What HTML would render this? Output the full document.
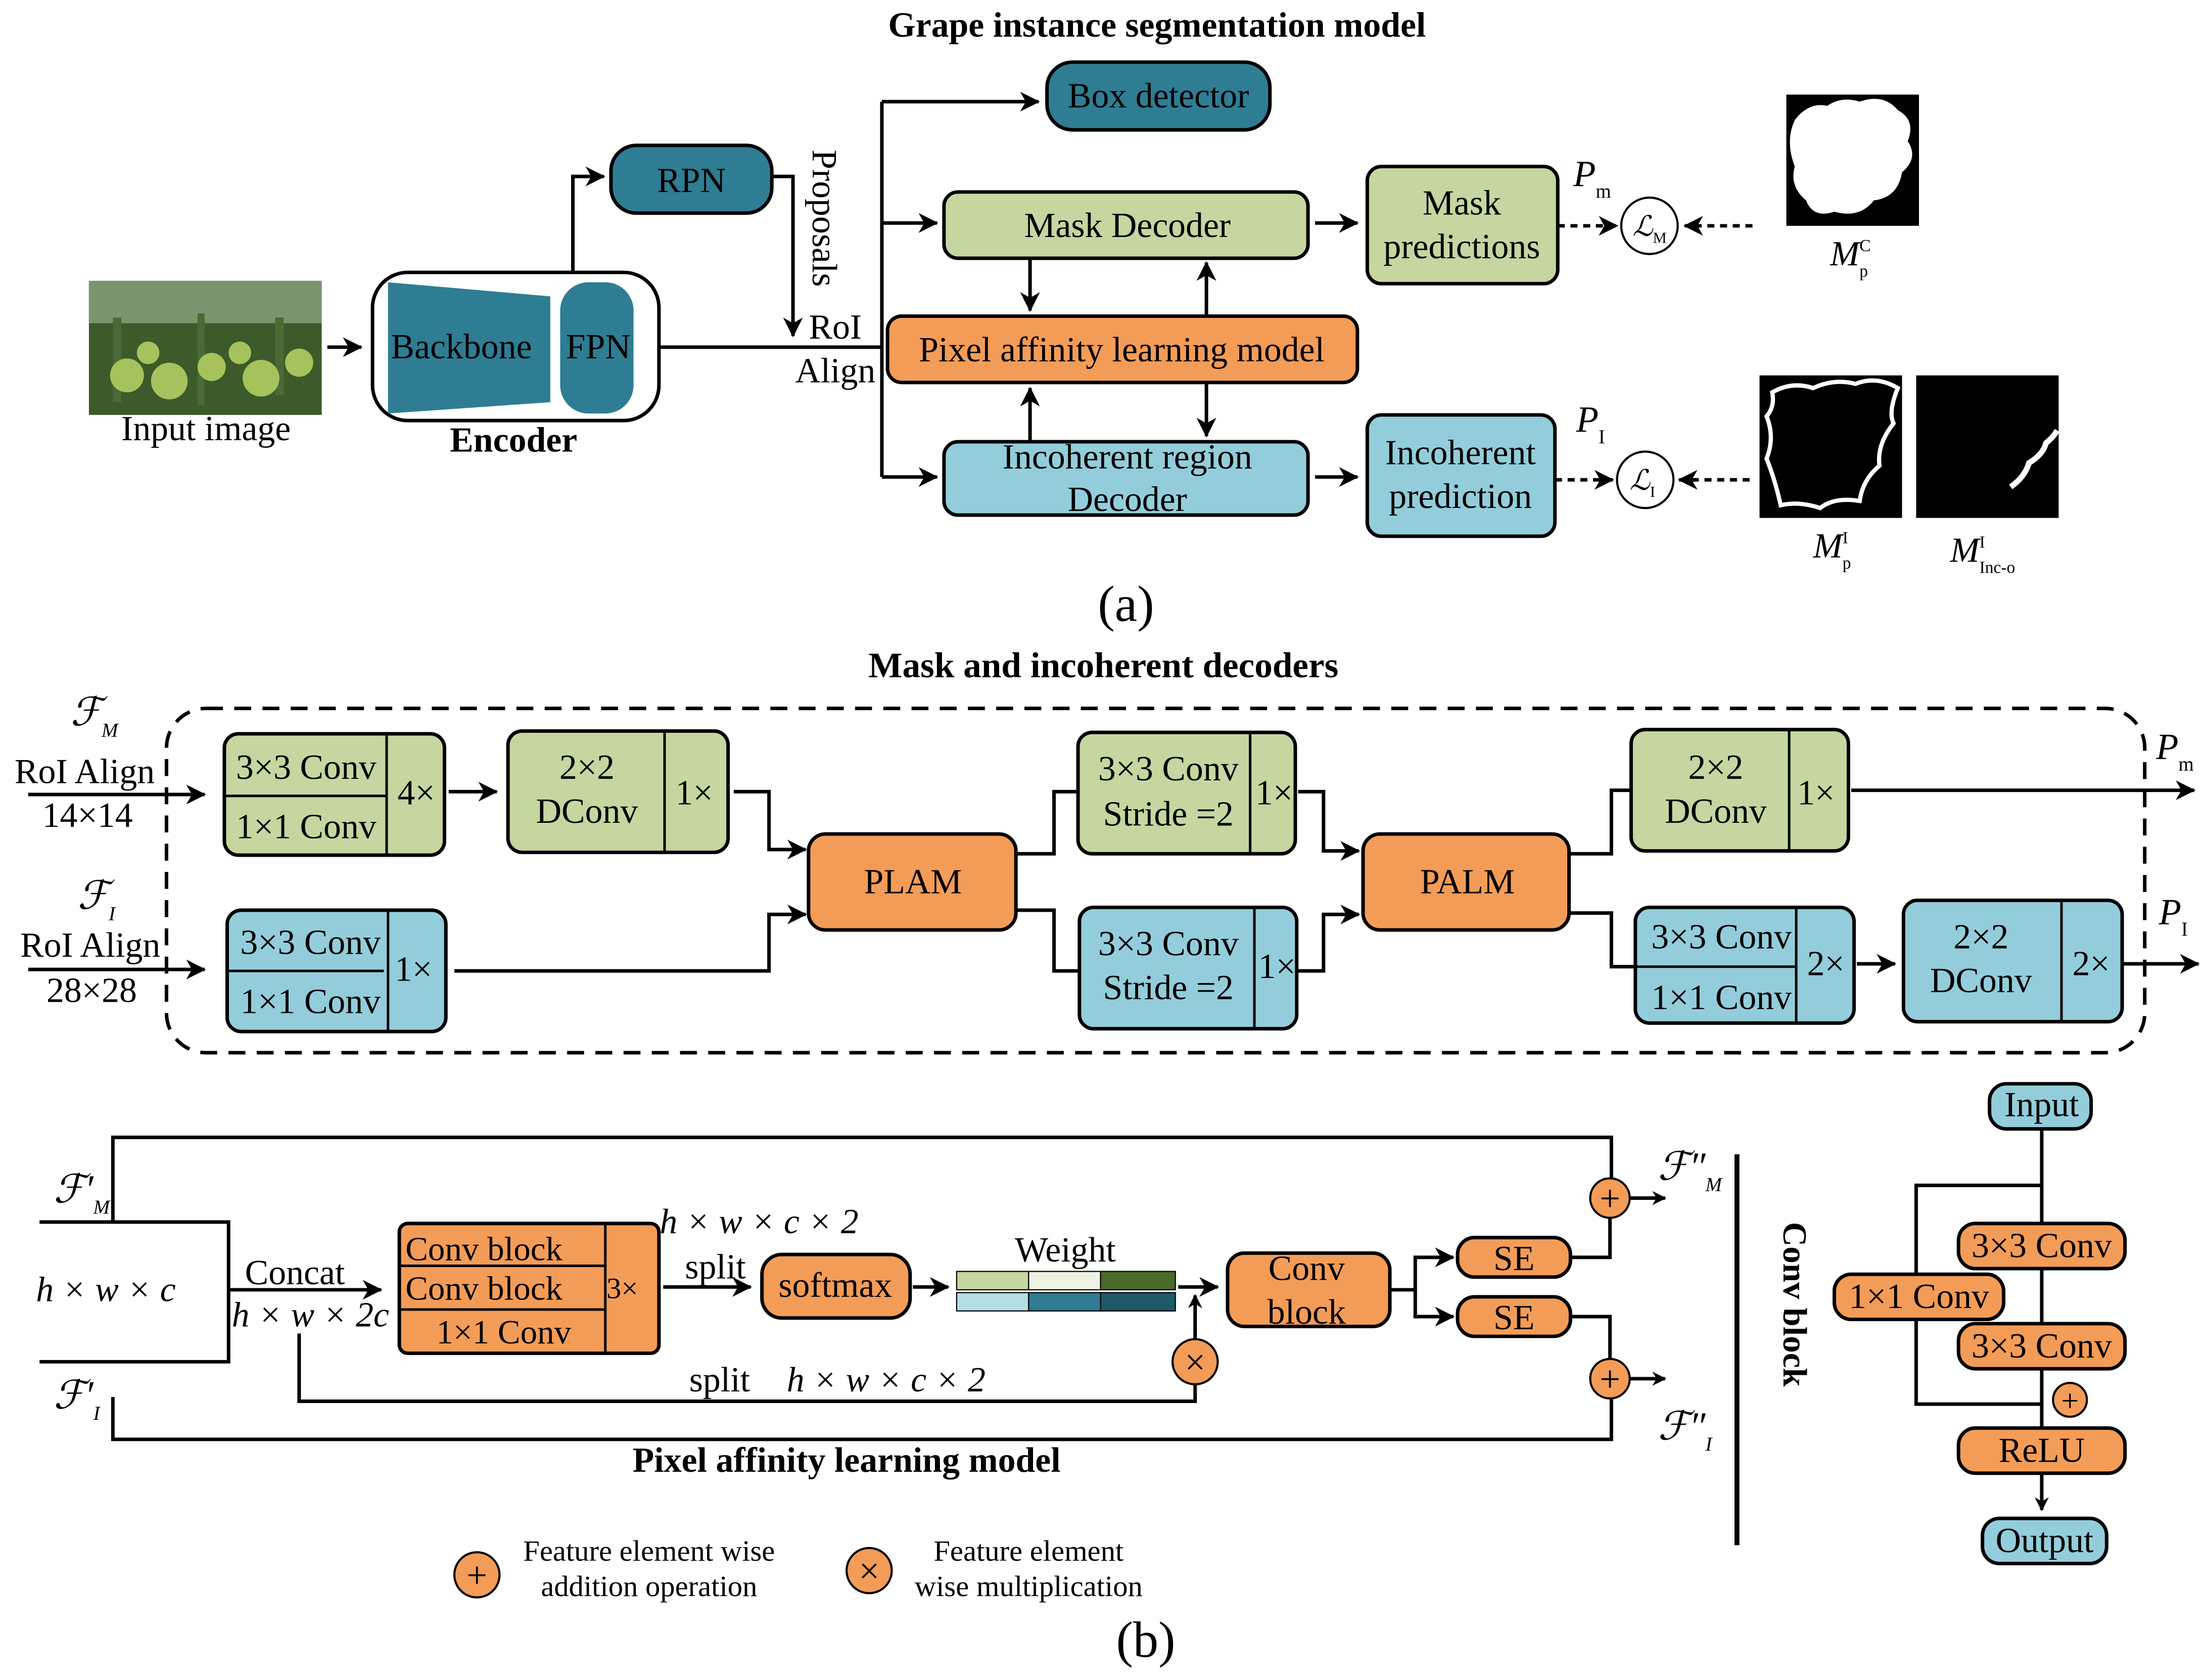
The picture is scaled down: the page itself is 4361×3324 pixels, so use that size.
<!DOCTYPE html>
<html><head><meta charset="utf-8"><style>html,body{margin:0;padding:0;background:#fff}svg{display:block}</style></head>
<body>
<svg width="4361" height="3324" viewBox="0 0 1562 1190.5" xmlns="http://www.w3.org/2000/svg" font-family="Liberation Serif, serif" font-size="25">
<defs>
<marker id="a" markerWidth="10" markerHeight="10" refX="9" refY="5" orient="auto" markerUnits="userSpaceOnUse"><path d="M0,0 L10,5 L0,10 L3,5 Z" fill="#000"/></marker>
<marker id="b" markerWidth="14" markerHeight="14" refX="13" refY="7" orient="auto" markerUnits="userSpaceOnUse"><path d="M0,0 L14,7 L0,14 L4,7 Z" fill="#000"/></marker>
</defs>
<g stroke="#000" stroke-width="2.5" fill="none">
<path d="M232,246 H256" marker-end="url(#b)"/>
<path d="M406,193 V125 H428" marker-end="url(#b)"/>
<path d="M547,125 H562 V238" marker-end="url(#b)"/>
<path d="M467,246 H625"/>
<path d="M625,72 V338"/>
<path d="M625,72 H736" marker-end="url(#b)"/>
<path d="M625,158 H664" marker-end="url(#b)"/>
<path d="M625,338 H664" marker-end="url(#b)"/>
<path d="M730,183 V220" marker-end="url(#b)"/>
<path d="M855,224 V186" marker-end="url(#b)"/>
<path d="M730,313 V275" marker-end="url(#b)"/>
<path d="M855,271 V309" marker-end="url(#b)"/>
<path d="M932,158 H962" marker-end="url(#b)"/>
<path d="M932,338 H962" marker-end="url(#b)"/>
<path d="M1104,160 H1146" stroke-dasharray="5,4" marker-end="url(#b)"/>
<path d="M1242,160 H1194" stroke-dasharray="5,4" marker-end="url(#b)"/>
<path d="M1102,340 H1143" stroke-dasharray="5,4" marker-end="url(#b)"/>
<path d="M1240,340 H1190" stroke-dasharray="5,4" marker-end="url(#b)"/>
<rect x="118" y="502" width="1402" height="244" rx="28" stroke-dasharray="12,8"/>
<path d="M20,563 H145" marker-end="url(#b)"/>
<path d="M20,687 H145" marker-end="url(#b)"/>
<path d="M318,561 H352" marker-end="url(#b)"/>
<path d="M520,561 H545 V602 H571" marker-end="url(#b)"/>
<path d="M322,688 H545 V648 H571" marker-end="url(#b)"/>
<path d="M720,605 H747 V561 H763"/>
<path d="M720,645 H747 V688 H764"/>
<path d="M920,561 H938 V603 H963" marker-end="url(#b)"/>
<path d="M920,688 H938 V648 H963" marker-end="url(#b)"/>
<path d="M1112,605 H1142 V560 H1155"/>
<path d="M1112,647 H1142 V685 H1158"/>
<path d="M1312,560 H1555" marker-end="url(#b)"/>
<path d="M1316,683 H1343" marker-end="url(#b)"/>
<path d="M1505,683 H1558" marker-end="url(#b)"/>
<path d="M80,865 V806 H1142 V835"/>
<path d="M80,990 V1020 H1142 V991"/>
<path d="M28,866 H162 V965 H28"/>
<path d="M162,914 H270" marker-end="url(#b)"/>
<path d="M470,912 H532" marker-end="url(#b)"/>
<path d="M647,912 H672" marker-end="url(#b)"/>
<path d="M835,912 H863" marker-end="url(#b)"/>
<path d="M847,949 V918" marker-end="url(#a)"/>
<path d="M212,945 V993 H847 V981"/>
<path d="M985,914 H1003 V891 H1030" marker-end="url(#b)"/>
<path d="M1003,914 V933 H1030" marker-end="url(#b)"/>
<path d="M1113,891 H1141 V863"/>
<path d="M1113,933 H1141 V963"/>
<path d="M1155,849 H1180" marker-end="url(#a)"/>
<path d="M1155,977 H1180" marker-end="url(#a)"/>
<path d="M1231,818 V1095" stroke-width="3.5"/>
<path d="M1447,800 V1012"/>
<path d="M1447,840 H1358 V995 H1447" />
<path d="M1447,1044 V1070" marker-end="url(#a)"/>
</g>
<text x="820" y="26" text-anchor="middle" font-weight="bold" font-size="25">Grape instance segmentation model</text>
<rect x="63" y="199" width="165" height="95" fill="#3d5a2a"/>
<rect x="63" y="199" width="165" height="30" fill="#7a9470"/>
<g fill="#4a6a35"><rect x="80" y="225" width="6" height="60"/><rect x="140" y="222" width="5" height="65"/><rect x="195" y="225" width="6" height="55"/></g>
<g fill="#a5c25c"><circle cx="90" cy="266" r="12"/><circle cx="120" cy="270" r="13"/><circle cx="150" cy="260" r="10"/><circle cx="185" cy="268" r="13"/><circle cx="212" cy="257" r="10"/><circle cx="105" cy="250" r="8"/><circle cx="170" cy="250" r="8"/></g>
<text x="146" y="312" text-anchor="middle">Input image</text>
<rect x="264" y="193" width="203" height="105" rx="25" fill="#fff" stroke="#000" stroke-width="2.5"/>
<path d="M275,200 L390,210 L390,285 L275,293 Z" fill="#2e7d93"/>
<rect x="397" y="200" width="52" height="93" rx="20" fill="#2e7d93"/>
<text x="327" y="254" text-anchor="middle">Backbone</text>
<text x="424" y="254" text-anchor="middle">FPN</text>
<text x="364" y="320" text-anchor="middle" font-weight="bold">Encoder</text>
<g stroke="#000" stroke-width="2.5">
<rect x="433" y="103" width="114" height="48" rx="18" fill="#2e7d93"/>
<rect x="742" y="44" width="158" height="48" rx="18" fill="#2e7d93"/>
<rect x="669" y="136" width="258" height="47" rx="10" fill="#c5d6a0"/>
<rect x="629" y="224" width="333" height="47" rx="10" fill="#f39c57"/>
<rect x="669" y="313" width="258" height="52" rx="10" fill="#93cddb"/>
<rect x="969" y="118" width="135" height="83" rx="10" fill="#c5d6a0"/>
<rect x="969" y="294" width="133" height="86" rx="10" fill="#93cddb"/>
<circle cx="1169" cy="160" r="20" fill="#fff" stroke-width="1.5"/>
<circle cx="1166" cy="340" r="20" fill="#fff" stroke-width="1.5"/>
</g>
<text x="490" y="136" text-anchor="middle">RPN</text>
<text x="821" y="76" text-anchor="middle">Box detector</text>
<text transform="translate(576,106) rotate(90)">Proposals</text>
<text x="592" y="240" text-anchor="middle">RoI</text>
<text x="592" y="271" text-anchor="middle">Align</text>
<text x="799" y="168" text-anchor="middle">Mask Decoder</text>
<text x="795" y="256" text-anchor="middle">Pixel affinity learning model</text>
<text x="799" y="332" text-anchor="middle">Incoherent region</text>
<text x="799" y="362" text-anchor="middle">Decoder</text>
<text x="1036" y="152" text-anchor="middle">Mask</text>
<text x="1036" y="183" text-anchor="middle">predictions</text>
<text x="1035" y="329" text-anchor="middle">Incoherent</text>
<text x="1035" y="360" text-anchor="middle">prediction</text>
<text x="1115" y="132" font-style="italic" font-size="26">P<tspan font-style="normal" font-size="14" dy="8">m</tspan></text>
<text x="1117" y="306" font-style="italic" font-size="26">P<tspan font-style="normal" font-size="14" dy="8">I</tspan></text>
<text x="1157" y="167" font-style="italic" font-size="20">ℒ<tspan font-style="normal" font-size="11" dy="5">M</tspan></text>
<text x="1155" y="347" font-style="italic" font-size="20">ℒ<tspan font-style="normal" font-size="11" dy="5">I</tspan></text>
<rect x="1266" y="67" width="94" height="93" fill="#000"/>
<path d="M1272,85 Q1282,72 1295,75 Q1305,68 1318,72 Q1335,66 1345,78 Q1358,85 1352,100 Q1360,112 1348,122 Q1345,140 1328,142 Q1318,155 1300,150 Q1285,155 1280,142 Q1268,132 1272,118 Q1265,100 1272,85 Z" fill="#fff"/>
<rect x="1247" y="266" width="101" height="101" fill="#000"/>
<path d="M1256,278 Q1270,270 1285,275 Q1300,268 1315,272 Q1330,266 1345,275 Q1338,292 1342,300 Q1330,315 1332,330 Q1320,340 1318,355 Q1300,352 1290,360 Q1275,355 1262,358 Q1258,340 1252,325 Q1258,310 1252,295 Q1258,288 1256,278 Z" fill="none" stroke="#fff" stroke-width="3"/>
<rect x="1358" y="266" width="101" height="101" fill="#000"/>
<path d="M1425,345 Q1435,338 1438,328 Q1448,322 1450,314 Q1455,310 1458,305" fill="none" stroke="#fff" stroke-width="4"/>
<text x="1297" y="188" font-style="italic" font-size="25">M<tspan font-style="normal" font-size="12" dy="-10">C</tspan><tspan font-style="normal" font-size="12" dx="-8" dy="18">p</tspan></text>
<text x="1285" y="395" font-style="italic" font-size="25">M<tspan font-style="normal" font-size="12" dy="-10">I</tspan><tspan font-style="normal" font-size="12" dx="-4" dy="18">p</tspan></text>
<text x="1382" y="398" font-style="italic" font-size="25">M<tspan font-style="normal" font-size="12" dy="-10">I</tspan><tspan font-style="normal" font-size="12" dx="-4" dy="18">Inc-o</tspan></text>
<text x="798" y="440" text-anchor="middle" font-size="36">(a)</text>
<text x="782" y="480" text-anchor="middle" font-weight="bold" font-size="25.5">Mask  and incoherent decoders</text>
<g stroke="#000" stroke-width="2.5">
<rect x="159" y="520" width="156" height="86" rx="10" fill="#c5d6a0"/>
<rect x="360" y="518" width="156" height="86" rx="10" fill="#c5d6a0"/>
<rect x="161" y="645" width="155" height="86" rx="10" fill="#93cddb"/>
<rect x="573" y="591" width="147" height="68" rx="12" fill="#f39c57"/>
<rect x="764" y="519" width="154" height="86" rx="10" fill="#c5d6a0"/>
<rect x="765" y="643" width="154" height="86" rx="10" fill="#93cddb"/>
<rect x="966" y="591" width="146" height="68" rx="12" fill="#f39c57"/>
<rect x="1156" y="517" width="154" height="86" rx="10" fill="#c5d6a0"/>
<rect x="1159" y="643" width="155" height="82" rx="10" fill="#93cddb"/>
<rect x="1349" y="638" width="155" height="86" rx="10" fill="#93cddb"/>
<path d="M274,520 V606 M159,564 H274 M471,518 V604 M275,645 V731 M161,688 H272 M886,519 V605 M889,643 V729 M1268,517 V603 M1273,643 V725 M1159,685 H1273 M1461,638 V724" stroke-width="1.8" fill="none"/>
</g>
<text x="50" y="514" font-style="italic" font-size="28">ℱ<tspan font-size="14" dy="8">M</tspan></text>
<text x="60" y="555" text-anchor="middle">RoI Align</text>
<text x="62" y="586" text-anchor="middle">14×14</text>
<text x="55" y="644" font-style="italic" font-size="28">ℱ<tspan font-size="14" dy="8">I</tspan></text>
<text x="64" y="678" text-anchor="middle">RoI Align</text>
<text x="65" y="710" text-anchor="middle">28×28</text>
<text x="217" y="552" text-anchor="middle">3×3 Conv</text>
<text x="217" y="594" text-anchor="middle">1×1 Conv</text>
<text x="295" y="570" text-anchor="middle">4×</text>
<text x="416" y="552" text-anchor="middle">2×2</text>
<text x="416" y="583" text-anchor="middle">DConv</text>
<text x="492" y="570" text-anchor="middle">1×</text>
<text x="220" y="676" text-anchor="middle">3×3 Conv</text>
<text x="220" y="718" text-anchor="middle">1×1 Conv</text>
<text x="293" y="695" text-anchor="middle">1×</text>
<text x="647" y="633" text-anchor="middle">PLAM</text>
<text x="828" y="553" text-anchor="middle">3×3 Conv</text>
<text x="828" y="585" text-anchor="middle">Stride =2</text>
<text x="903" y="570" text-anchor="middle">1×</text>
<text x="828" y="677" text-anchor="middle">3×3 Conv</text>
<text x="828" y="708" text-anchor="middle">Stride =2</text>
<text x="905" y="693" text-anchor="middle">1×</text>
<text x="1040" y="633" text-anchor="middle">PALM</text>
<text x="1216" y="552" text-anchor="middle">2×2</text>
<text x="1216" y="583" text-anchor="middle">DConv</text>
<text x="1287" y="570" text-anchor="middle">1×</text>
<text x="1220" y="672" text-anchor="middle">3×3 Conv</text>
<text x="1220" y="715" text-anchor="middle">1×1 Conv</text>
<text x="1294" y="691" text-anchor="middle">2×</text>
<text x="1404" y="672" text-anchor="middle">2×2</text>
<text x="1404" y="703" text-anchor="middle">DConv</text>
<text x="1482" y="691" text-anchor="middle">2×</text>
<text x="1528" y="538" font-style="italic" font-size="26">P<tspan font-style="normal" font-size="14" dy="8">m</tspan></text>
<text x="1530" y="655" font-style="italic" font-size="26">P<tspan font-style="normal" font-size="14" dy="8">I</tspan></text>
<g stroke="#000" stroke-width="2.5">
<rect x="283" y="867" width="184" height="92" rx="6" fill="#f39c57"/>
<path d="M429,867 V959 M283,897 H429 M283,928 H429" stroke-width="1.8" fill="none"/>
<rect x="540" y="889" width="105" height="45" rx="14" fill="#f39c57"/>
<rect x="870" y="888" width="115" height="52" rx="12" fill="#f39c57"/>
<rect x="1033" y="877" width="80" height="28" rx="12" fill="#f39c57"/>
<rect x="1033" y="919" width="80" height="28" rx="12" fill="#f39c57"/>
<circle cx="1141" cy="849" r="14" fill="#f39c57" stroke-width="1.5"/>
<circle cx="1141" cy="977" r="14" fill="#f39c57" stroke-width="1.5"/>
<circle cx="847" cy="965" r="16" fill="#f39c57" stroke-width="1.5"/>
<rect x="1410" y="768" width="72" height="32" rx="12" fill="#93cddb"/>
<rect x="1388" y="867" width="118" height="32" rx="12" fill="#f39c57"/>
<rect x="1300" y="903" width="120" height="32" rx="12" fill="#f39c57"/>
<rect x="1388" y="938" width="118" height="32" rx="12" fill="#f39c57"/>
<rect x="1388" y="1012" width="118" height="32" rx="12" fill="#f39c57"/>
<rect x="1405" y="1076" width="88" height="32" rx="12" fill="#93cddb"/>
<circle cx="1467" cy="992" r="12" fill="#f39c57" stroke-width="1.5"/>
<circle cx="338" cy="1116" r="16" fill="#f39c57" stroke-width="1.5"/>
<circle cx="616" cy="1113" r="16" fill="#f39c57" stroke-width="1.5"/>
</g>
<g stroke="#000" stroke-width="0.8">
<rect x="678" y="901" width="51" height="13" fill="#c5d6a0"/><rect x="729" y="901" width="51" height="13" fill="#eef3e4"/><rect x="780" y="901" width="53" height="13" fill="#4a6a2a"/>
<rect x="678" y="916" width="51" height="13" fill="#b5dde6"/><rect x="729" y="916" width="51" height="13" fill="#2e7d93"/><rect x="780" y="916" width="53" height="13" fill="#1e5a6a"/>
</g>
<g font-size="26" text-anchor="middle">
<text x="1141" y="858">+</text><text x="1141" y="986">+</text><text x="847" y="974">×</text>
<text x="1467" y="1000" font-size="22">+</text><text x="338" y="1125">+</text><text x="616" y="1122">×</text>
</g>
<text x="38" y="852" font-style="italic" font-size="28">ℱ′<tspan font-size="14" dy="8">M</tspan></text>
<text x="38" y="998" font-style="italic" font-size="28">ℱ′<tspan font-size="14" dy="8">I</tspan></text>
<text x="75" y="922" text-anchor="middle" font-style="italic">h × w × c</text>
<text x="209" y="910" text-anchor="middle">Concat</text>
<text x="220" y="940" text-anchor="middle" font-style="italic">h × w × 2c</text>
<text x="343" y="893" text-anchor="middle" font-size="24">Conv block</text>
<text x="343" y="921" text-anchor="middle" font-size="24">Conv block</text>
<text x="357" y="952" text-anchor="middle" font-size="24">1×1 Conv</text>
<text x="441" y="920" text-anchor="middle" font-size="21">3×</text>
<text x="538" y="874" text-anchor="middle" font-style="italic">h × w × c × 2</text>
<text x="507" y="906" text-anchor="middle">split</text>
<text x="592" y="919" text-anchor="middle">softmax</text>
<text x="755" y="894" text-anchor="middle">Weight</text>
<text x="510" y="986" text-anchor="middle">split</text>
<text x="628" y="986" text-anchor="middle" font-style="italic">h × w × c × 2</text>
<text x="926" y="907" text-anchor="middle">Conv</text>
<text x="926" y="938" text-anchor="middle">block</text>
<text x="1073" y="900" text-anchor="middle">SE</text>
<text x="1073" y="942" text-anchor="middle">SE</text>
<text x="1175" y="836" font-style="italic" font-size="28">ℱ″<tspan font-size="14" dy="8">M</tspan></text>
<text x="1175" y="1020" font-style="italic" font-size="28">ℱ″<tspan font-size="14" dy="8">I</tspan></text>
<text x="600" y="1043" text-anchor="middle" font-weight="bold" font-size="25">Pixel affinity learning model</text>
<text transform="translate(1264,866) rotate(90)" font-weight="bold" font-size="24">Conv block</text>
<text x="1447" y="791" text-anchor="middle">Input</text>
<text x="1447" y="891" text-anchor="middle">3×3 Conv</text>
<text x="1360" y="927" text-anchor="middle">1×1 Conv</text>
<text x="1447" y="962" text-anchor="middle">3×3 Conv</text>
<text x="1447" y="1036" text-anchor="middle">ReLU</text>
<text x="1449" y="1100" text-anchor="middle">Output</text>
<text x="460" y="1106" text-anchor="middle" font-size="21">Feature element wise</text>
<text x="460" y="1131" text-anchor="middle" font-size="21">addition operation</text>
<text x="729" y="1106" text-anchor="middle" font-size="21">Feature element</text>
<text x="729" y="1131" text-anchor="middle" font-size="21">wise multiplication</text>
<text x="812" y="1174" text-anchor="middle" font-size="36">(b)</text>
</svg>
</body></html>
